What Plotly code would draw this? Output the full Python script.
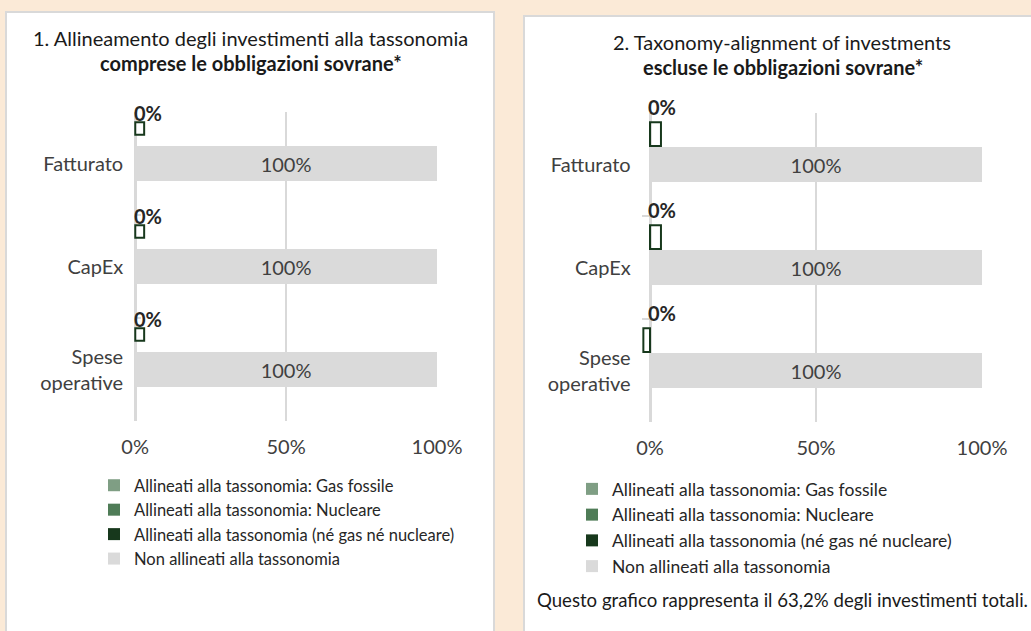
import plotly.graph_objects as go

# categories and tick labels
categories = ["Fatturato", "CapEx", "Spese operative"]
category_labels = ["Fatturato", "CapEx", "Spese<br>operative"]

series_names = [
    "Allineati alla tassonomia: Gas fossile",
    "Allineati alla tassonomia: Nucleare",
    "Allineati alla tassonomia (né gas né nucleare)",
    "Non allineati alla tassonomia",
]
series_colors = ["#7F9E84", "#4F7C57", "#17381C", "#DADADA"]

# panel 1: including sovereign bonds
gas_left = [0, 0, 0]
nuclear_left = [0, 0, 0]
aligned_left = [3, 3, 3]
not_aligned_left = [100, 100, 100]
aligned_labels_left = ["0%", "0%", "0%"]

# panel 2: excluding sovereign bonds
gas_right = [0, 0, 0]
nuclear_right = [0, 0, 0]
aligned_right = [3.3, 3.3, -2]
not_aligned_right = [100, 100, 100]
aligned_labels_right = ["0%", "0%", "0%"]

W, H = 1031, 631
FONT = "Lato, 'Open Sans', sans-serif"
BG = "#FBEAD7"
GRID = "#D9D9D9"


def px(x):
    return x / W


def py(y):
    return 1 - y / H


fig = go.Figure()


def add_panel(xa, ya, legend, gas, nuc, ali, non, green_offset, green_width):
    vals = [gas, nuc, ali, non]
    for i, (name, col, v) in enumerate(zip(series_names, series_colors, vals)):
        grp = legend + str(i)
        if i < 2:
            fig.add_trace(go.Bar(
                y=categories, x=v, orientation="h", name=name,
                xaxis=xa, yaxis=ya, legend=legend, legendgroup=grp, legendrank=i + 1,
                offset=green_offset, width=green_width,
                marker=dict(color=col, line=dict(width=0)),
                hoverinfo="skip",
            ))
        elif i == 2:
            # outlined small bars, legend entry drawn by a filled stand-in
            fig.add_trace(go.Bar(
                y=categories, x=v, orientation="h", name=name, showlegend=False,
                xaxis=xa, yaxis=ya, legend=legend, legendgroup=grp,
                offset=green_offset, width=green_width,
                marker=dict(color="rgba(255,255,255,0)", line=dict(color=col, width=2)),
                hoverinfo="skip",
            ))
            fig.add_trace(go.Bar(
                y=[None], x=[None], orientation="h", name=name,
                xaxis=xa, yaxis=ya, legend=legend, legendgroup=grp, legendrank=i + 1,
                marker=dict(color=col, line=dict(width=0)),
                hoverinfo="skip",
            ))
        else:
            fig.add_trace(go.Bar(
                y=categories, x=v, orientation="h", name=name,
                xaxis=xa, yaxis=ya, legend=legend, legendgroup=grp, legendrank=i + 1,
                offset=-0.17, width=0.34,
                marker=dict(color=col, line=dict(width=0)),
                texttemplate="%{x:.0f}%", textposition="inside",
                insidetextanchor="middle",
                textfont=dict(size=20, color="#404040", family=FONT),
                hoverinfo="skip",
            ))


add_panel("x", "y", "legend", gas_left, nuclear_left, aligned_left,
          not_aligned_left, -0.40, 0.12)
add_panel("x2", "y2", "legend2", gas_right, nuclear_right, aligned_right,
          not_aligned_right, -0.41, 0.23)

# bold "0%" labels above the small bars
for lab, cat in zip(aligned_labels_left, categories):
    fig.add_annotation(x=0, y=cat, xref="x", yref="y", text="<b>%s</b>" % lab,
                       showarrow=False, xanchor="left", yanchor="middle",
                       yshift=51, xshift=-3,
                       font=dict(size=20, color="#262626", family=FONT))
for lab, cat in zip(aligned_labels_right, categories):
    fig.add_annotation(x=0, y=cat, xref="x2", yref="y2", text="<b>%s</b>" % lab,
                       showarrow=False, xanchor="left", yanchor="middle",
                       yshift=58, xshift=-4,
                       font=dict(size=20, color="#262626", family=FONT))

# panel titles and note
texts = [
    (250, 38, "1. Allineamento degli investimenti alla tassonomia", 20),
    (251, 63, "<b>comprese le obbligazioni sovrane*</b>", 20),
    (782, 42, "2. Taxonomy-alignment of investments", 20),
    (783, 67, "<b>escluse le obbligazioni sovrane*</b>", 20),
    (782, 600, "Questo grafico rappresenta il 63,2% degli investimenti totali.", 18.6),
]
for x, y, t, s in texts:
    fig.add_annotation(x=px(x), y=py(y), xref="paper", yref="paper", text=t,
                       showarrow=False, xanchor="center", yanchor="middle",
                       font=dict(size=s, color="#1A1A1A", family=FONT))

# white panels
fig.add_shape(type="rect", xref="paper", yref="paper", layer="below",
              x0=px(6), x1=px(494), y0=py(650), y1=py(12),
              fillcolor="white", line=dict(color=GRID, width=2))
fig.add_shape(type="rect", xref="paper", yref="paper", layer="below",
              x0=px(524), x1=px(1045), y0=py(650), y1=py(16),
              fillcolor="white", line=dict(color=GRID, width=2))

xaxis_common = dict(dtick=50, ticksuffix="%", showgrid=True,
                    gridcolor=GRID, gridwidth=1.5, zeroline=True,
                    zerolinecolor=GRID, zerolinewidth=2.5,
                    showline=False, ticks="outside", ticklen=8,
                    tickcolor="rgba(0,0,0,0)", fixedrange=True, automargin=False,
                    tickfont=dict(size=20, color="#404040", family=FONT))
yaxis_common = dict(type="category", categoryorder="array", categoryarray=categories,
                    range=[2.5, -0.5], tickmode="array", tickvals=categories,
                    ticktext=category_labels, showline=False,
                    ticks="inside", ticklen=7, tickcolor=GRID, tickwidth=1.5,
                    tickson="boundaries", showgrid=False, fixedrange=True,
                    automargin=False, ticklabelstandoff=10,
                    tickfont=dict(size=20, color="#404040", family=FONT))

fig.update_layout(
    width=W, height=H,
    margin=dict(l=0, r=0, t=0, b=0),
    paper_bgcolor=BG, plot_bgcolor="rgba(0,0,0,0)",
    barmode="overlay",
    font=dict(family=FONT, color="#262626"),
    xaxis=dict(domain=[px(134.2), px(437)], range=[-0.3, 100], anchor="y", **xaxis_common),
    yaxis=dict(domain=[py(421), py(112)], anchor="x", **yaxis_common),
    xaxis2=dict(domain=[px(641.7), px(982)], range=[-2.5, 100], anchor="y2", **xaxis_common),
    yaxis2=dict(domain=[py(422), py(113)], anchor="x2", **yaxis_common),
    legend=dict(x=px(94), y=py(468), xanchor="left", yanchor="top",
                bgcolor="rgba(0,0,0,0)", font=dict(size=16.5, color="#262626", family=FONT),
                itemwidth=30, traceorder="normal", tracegroupgap=4),
    legend2=dict(x=px(572), y=py(471), xanchor="left", yanchor="top",
                 bgcolor="rgba(0,0,0,0)", font=dict(size=17.5, color="#262626", family=FONT),
                 itemwidth=30, traceorder="normal", tracegroupgap=4),
    showlegend=True,
)

fig.write_html("out.html", config={"displayModeBar": False},
               post_script="document.body.style.margin='0';")
